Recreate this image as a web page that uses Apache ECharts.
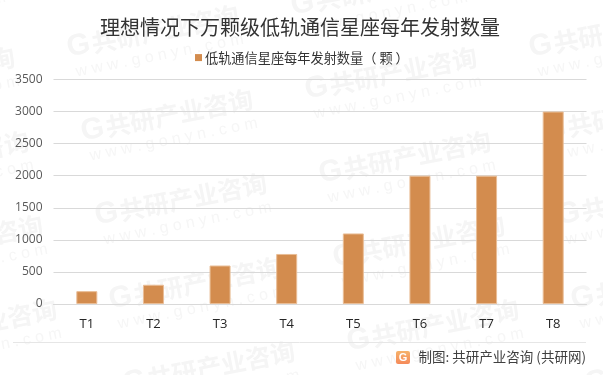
<!DOCTYPE html>
<html>
<head>
<meta charset="utf-8">
<style>html,body{margin:0;padding:0;background:#fff}#c{width:603px;height:375px}</style>
<script src="https://cdn.jsdelivr.net/npm/echarts@6/dist/echarts.min.js"></script>
</head>
<body>
<div id="c"></div>
<script>
const categories = ['T1','T2','T3','T4','T5','T6','T7','T8'];
const launches = [200,300,600,780,1100,2000,2000,3000];
const yTicks = {min:0,max:3500,interval:500};
const titleText = '理想情况下万颗级低轨通信星座每年发射数量';
const seriesName = '低轨通信星座每年发射数量（颗）';
const sourceText = '制图: 共研产业咨询 (共研网)';
const markText = '共研产业咨询';
const markUrl = 'w w w . g o n y n . c o m';
const CJK = '"Noto Sans CJK SC","Noto Sans",sans-serif';
const LAT = '"Open Sans","Noto Sans CJK SC",sans-serif';

// repeating background watermark
const marks = [];
for (let i=-2;i<=3;i++) for (let j=-2;j<=5;j++){
  const cx = 169 + i*224 + j*14, cy = 118 - i*42 + j*84;
  if (cx<-120||cx>720||cy<-40||cy>420) continue;
  marks.push({type:'group',x:cx,y:cy,rotation:0.195,z:-10,silent:true,children:[
    {type:'text',style:{x:-89,y:-3,text:'G',fill:'#f5f5f5',font:'900 30px "Liberation Sans",sans-serif',textVerticalAlign:'middle'}},
    {type:'text',style:{x:-64,y:-3,text:markText,fill:'#f5f5f5',font:'bold 25px '+CJK,textVerticalAlign:'middle'}},
    {type:'text',style:{x:-85,y:22,text:markUrl,fill:'#f6f6f6',font:'16px "Liberation Sans",sans-serif',textVerticalAlign:'middle'}}
  ]});
}

const chart = echarts.init(document.getElementById('c'),null,{renderer:'canvas'});
chart.setOption({
  animation:false,
  backgroundColor:'#fff',
  title:{text:titleText,left:295,top:12,textAlign:'center',
    textStyle:{fontFamily:CJK,fontSize:20,fontWeight:'normal',color:'#333333'}},
  legend:{left:195,top:51,padding:0,itemWidth:7,itemHeight:7,itemGap:4,icon:'rect',
    itemStyle:{borderWidth:0},
    formatter:n=>n.replace('（颗）','（ 颗 ）'),
    textStyle:{fontFamily:CJK,fontSize:13.2,color:'#333333',padding:[0,0,0,-2]}},
  grid:{left:53.5,right:16.5,top:79.5,bottom:71,containLabel:false},
  xAxis:{type:'category',data:categories,
    axisLine:{lineStyle:{color:'#d9d9d9',width:1}},axisTick:{show:false},
    axisLabel:{fontFamily:LAT,fontSize:13,color:'#262626',margin:14}},
  yAxis:{type:'value',min:yTicks.min,max:yTicks.max,interval:yTicks.interval,
    axisLine:{show:false},axisTick:{show:false},
    axisLabel:{fontFamily:LAT,fontSize:12,color:'#595959',margin:11,formatter:v=>String(v)},
    splitLine:{lineStyle:{color:'#d9d9d9',width:1}}},
  series:[{type:'bar',name:seriesName,data:launches,barWidth:21,
    itemStyle:{color:'#d38c4e',borderColor:'#e9bd96',borderWidth:1}}],
  graphic:marks.concat([
    {type:'line',silent:true,shape:{x1:13,y1:342.5,x2:586,y2:342.5},style:{stroke:'#e6e6e6',lineWidth:1}},
    {type:'rect',silent:true,shape:{x:396,y:351,width:14,height:13,r:2},
      style:{fill:new echarts.graphic.LinearGradient(0,0,0,1,[{offset:0,color:'#f6b26a'},{offset:1,color:'#f58a5a'}])}},
    {type:'text',silent:true,style:{x:403,y:357.5,text:'G',fill:'#fff',font:'bold 11px "Liberation Sans",sans-serif',textAlign:'center',textVerticalAlign:'middle'}},
    {type:'text',silent:true,style:{x:586,y:357,text:sourceText,fill:'#404040',font:'13.5px '+CJK,textAlign:'right',textVerticalAlign:'middle'}}
  ])
});
</script>
</body>
</html>
